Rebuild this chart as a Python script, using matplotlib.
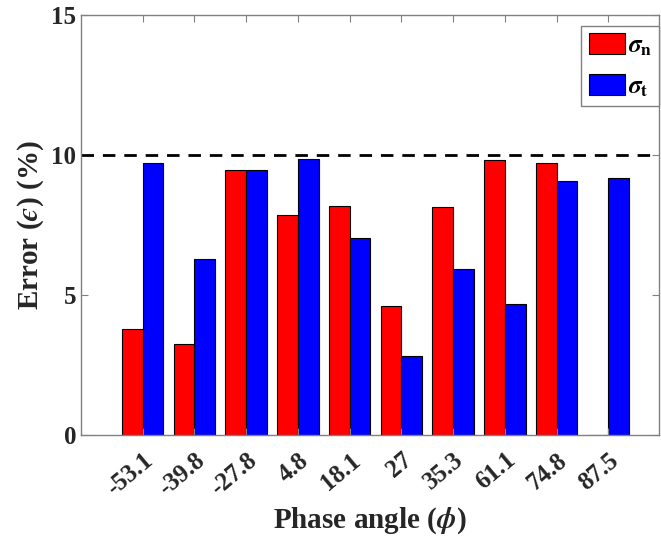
import matplotlib.pyplot as plt
import numpy as np

plt.rcParams['font.family'] = 'Liberation Serif'
plt.rcParams['font.weight'] = 'bold'
plt.rcParams['axes.labelweight'] = 'bold'
plt.rcParams['mathtext.fontset'] = 'stix'

angles = ['-53.1', '-39.8', '-27.8', '4.8', '18.1', '27', '35.3', '61.1', '74.8', '87.5']
sigma_n = [3.79, 3.26, 9.46, 7.85, 8.18, 4.60, 8.15, 9.82, 9.72, 0.0]
sigma_t = [9.72, 6.27, 9.46, 9.85, 7.02, 2.83, 5.91, 4.69, 9.07, 9.17]
limit = 10

x = np.arange(1, len(angles) + 1)
w = 0.4

fig = plt.figure(figsize=(6.61, 5.42), dpi=100)
ax = fig.add_axes([0.1225, 0.198, 0.8745, 0.774])

ax.bar(x - w / 2, sigma_n, w, color='#ff0000', edgecolor='black', linewidth=0.8,
       label=r'$\sigma_{\mathbf{n}}$')
ax.bar(x + w / 2, sigma_t, w, color='#0000ff', edgecolor='black', linewidth=0.8,
       label=r'$\sigma_{\mathbf{t}}$')
ax.axhline(limit, color='black', linestyle=(0, (4.5, 3.2)), linewidth=2)

ax.set_xlim(-0.19, 10.98)
ax.set_ylim(0, 15)
ax.set_xticks(x)
ax.set_xticklabels(angles, rotation=40, ha='right', va='top', rotation_mode='anchor')
ax.set_yticks([0, 5, 10, 15])

for s in ax.spines.values():
    s.set_color('#808080')
    s.set_linewidth(1)
ax.tick_params(direction='in', top=True, right=True, color='#808080', length=5,
               labelsize=18, labelcolor='#262626')
ax.tick_params(axis='x', pad=10)

ax.set_xlabel(r'Phase angle ($\phi$)', fontsize=21, color='#262626', labelpad=4)
ax.set_ylabel('Error ($\u03f5$) (%)', fontsize=21, color='#262626', labelpad=4)

leg = ax.legend(loc='upper right', fontsize=18, handlelength=1.45, handleheight=0.9,
                fancybox=False, framealpha=1, borderpad=0.3, labelspacing=0.65,
                handletextpad=0.1, borderaxespad=0, bbox_to_anchor=(1.0, 0.975))
leg.get_frame().set_edgecolor('#808080')
leg.get_frame().set_linewidth(1)

fig.savefig('out.png', dpi=100)
